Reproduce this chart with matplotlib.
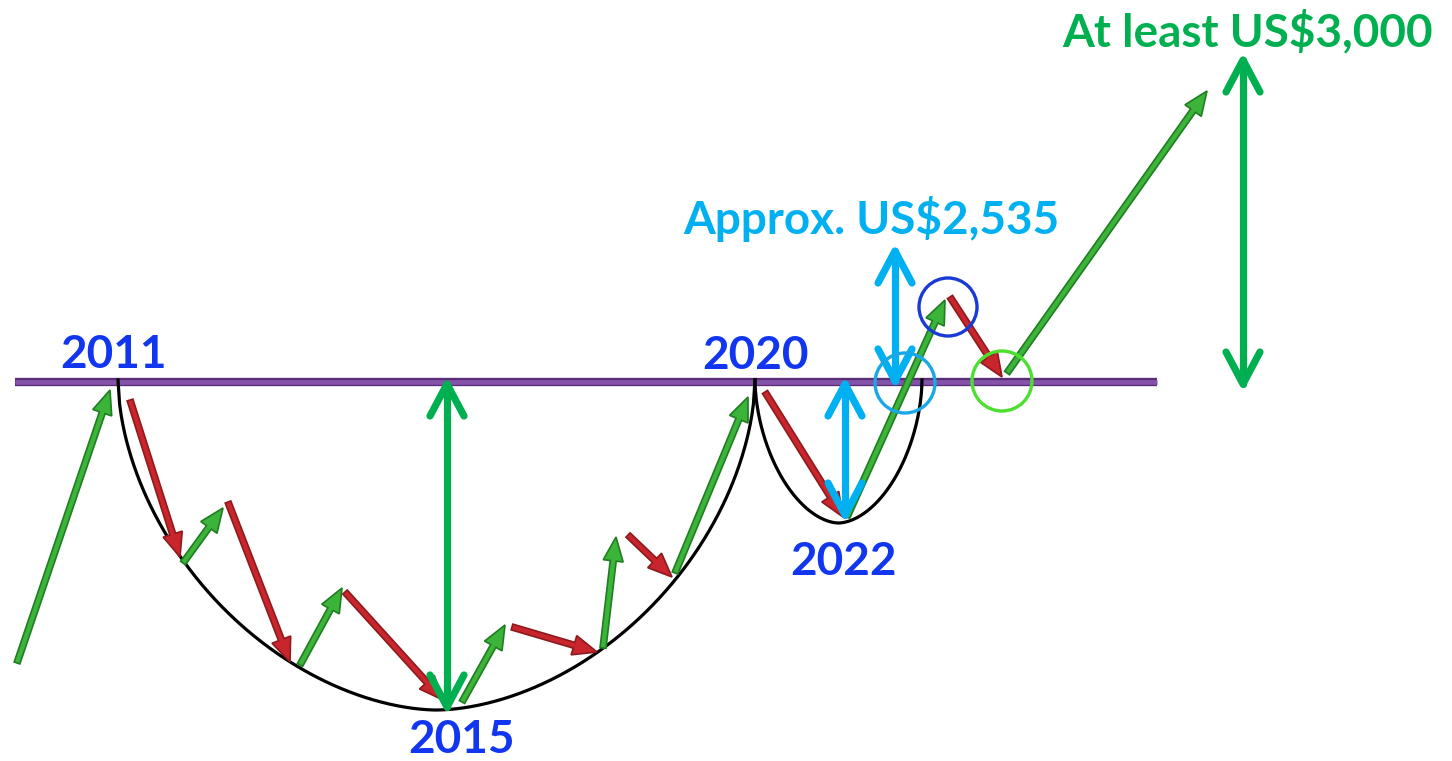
import matplotlib.pyplot as plt
from matplotlib.patches import Circle, FancyArrow
import numpy as np

# canvas is laid out in pixel units of the reference picture (y grows downward)
W, H = 1452, 761

# resistance (neckline) line
neckline_x = [15, 1157]
neckline_y = 382

# cup and handle curves: left x, right x, rim y, bottom y
cup = (118, 755, 380, 710)
handle = (755, 922, 380, 523)

# price swings (tail x, tail y, tip x, tip y)
up_moves = [
    (17, 663, 110, 390),
    (183, 563, 223, 508),
    (300, 665, 342, 588),
    (462, 702, 505, 625),
    (603, 648, 616, 537),
    (675, 573, 748, 397),
    (847, 517, 945, 300),
    (1007, 373, 1207, 91),
]
down_moves = [
    (130, 400, 180, 557),
    (228, 502, 290, 662),
    (345, 592, 443, 700),
    (512, 627, 597, 652),
    (628, 535, 672, 577),
    (765, 392, 843, 517),
    (950, 297, 1002, 377),
]

# measured depths (x, top y, bottom y)
green_spans = [(447, 384, 707), (1243, 60, 384)]
blue_spans = [(845, 384, 515), (895, 251, 381)]

# highlight circles (x, y, radius, colour)
rings = [
    (948, 307, 29, '#1a3ad8'),
    (905, 383, 30, '#1aa7e6'),
    (1002, 381, 30, '#4be030'),
]

year_labels = ['2011', '2015', '2020', '2022']
year_pos = [(114, 355), (462, 740), (755, 356), (844, 562)]

target_low = 'Approx. US$2,535'
target_high = 'At least US$3,000'

GREEN = '#00b050'
BLUE_LT = '#00b0f0'
YEAR_BLUE = '#1236f0'

fig = plt.figure(figsize=(W / 100, H / 100), dpi=100)
ax = fig.add_axes([0, 0, 1, 1])
ax.set_xlim(0, W)
ax.set_ylim(H, 0)
ax.axis('off')


def bowl(x0, x1, y_rim, y_bot, p=1.8, n=400):
    xc = (x0 + x1) / 2
    half = (x1 - x0) / 2
    r = np.linspace(-1, 1, n)
    y = y_rim + (y_bot - y_rim) * (1 - np.abs(r) ** p) ** (1 / p)
    return xc + r * half, y


# neckline with darker rim
ax.plot(neckline_x, [neckline_y] * 2, color='#5a2d78', lw=6, solid_capstyle='butt', zorder=2)
ax.plot(neckline_x, [neckline_y] * 2, color='#8453aa', lw=3.4, solid_capstyle='butt', zorder=2)

for c in (cup, handle):
    bx, by = bowl(*c)
    ax.plot(bx, by, color='black', lw=2.3, zorder=3)


def swing(x0, y0, x1, y1, face, edge):
    dx, dy = x1 - x0, y1 - y0
    a = FancyArrow(x0, y0, dx, dy, width=6, head_width=20, head_length=24,
                   length_includes_head=True, facecolor=face, edgecolor=edge,
                   lw=1.2, zorder=4)
    ax.add_patch(a)


for s in up_moves:
    swing(*s, face='#3cb43a', edge='#1f7d22')
for s in down_moves:
    swing(*s, face='#c8262c', edge='#8e1a1e')


def span(x, ytop, ybot, colour, lw=5.2, arm=32, spread=17):
    kw = dict(color=colour, lw=lw, solid_capstyle='round', solid_joinstyle='round', zorder=5)
    ax.plot([x, x], [ytop, ybot], **kw)
    ax.plot([x - spread, x, x + spread], [ytop + arm, ytop, ytop + arm], **kw)
    ax.plot([x - spread, x, x + spread], [ybot - arm, ybot, ybot - arm], **kw)


for s in green_spans:
    span(*s, GREEN)
for s in blue_spans:
    span(*s, BLUE_LT)

for x, y, r, c in rings:
    ax.add_patch(Circle((x, y), r, fill=False, edgecolor=c, lw=2.4, zorder=6))

font = dict(family='Lato', weight='bold', ha='center', va='center', fontsize=33)
for lab, (x, y) in zip(year_labels, year_pos):
    ax.text(x, y, lab, color=YEAR_BLUE, **font)

ax.text(871, 219, target_low, color=BLUE_LT, **font)
ax.text(1248, 32, target_high, color=GREEN, **font)

fig.savefig('out.png', dpi=100)
